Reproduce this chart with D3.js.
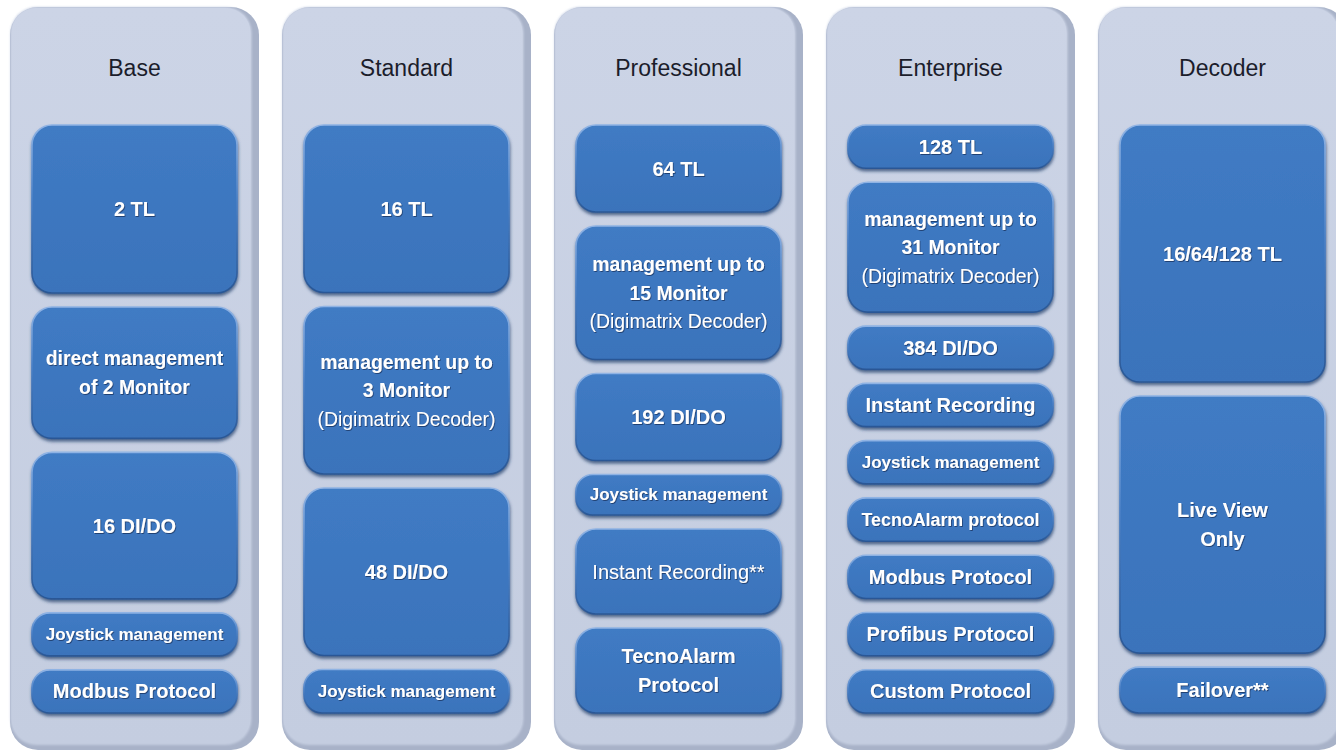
<!DOCTYPE html>
<html>
<head>
<meta charset="utf-8">
<script src="https://cdn.jsdelivr.net/npm/d3@7"></script>
<style>
  html, body { margin: 0; padding: 0; background: #ffffff; }
  svg { display: block; }
</style>
</head>
<body>
<svg id="chart" width="1336" height="752"></svg>
<script>
// ---------------- DATA ----------------
const tiers = ["Base", "Standard", "Professional", "Enterprise", "Decoder"];

const baseFeatures = [["2 TL"], ["direct management", "of 2 Monitor"], ["16 DI/DO"], ["Joystick management"], ["Modbus Protocol"]];
const baseWeights = [3.9, 3.05, 3.4, 1, 1];

const standardFeatures = [["16 TL"], ["management up to", "3 Monitor", "(Digimatrix Decoder)"], ["48 DI/DO"], ["Joystick management"]];
const standardWeights = [3.85, 3.85, 3.85, 1];

const professionalFeatures = [["64 TL"], ["management up to", "15 Monitor", "(Digimatrix Decoder)"], ["192 DI/DO"], ["Joystick management"], ["Instant Recording**"], ["TecnoAlarm", "Protocol"]];
const professionalWeights = [2.15, 3.3, 2.15, 1, 2.1, 2.1];

const enterpriseFeatures = [["128 TL"], ["management up to", "31 Monitor", "(Digimatrix Decoder)"], ["384 DI/DO"], ["Instant Recording"], ["Joystick management"], ["TecnoAlarm protocol"], ["Modbus Protocol"], ["Profibus Protocol"], ["Custom Protocol"]];
const enterpriseWeights = [1, 3, 1, 1, 1, 1, 1, 1, 1];

const decoderFeatures = [["16/64/128 TL"], ["Live View", "Only"], ["Failover**"]];
const decoderWeights = [5.6, 5.6, 1];

const regularLines = ["(Digimatrix Decoder)", "Instant Recording**"];

const columns = [
  { features: baseFeatures, weights: baseWeights },
  { features: standardFeatures, weights: standardWeights },
  { features: professionalFeatures, weights: professionalWeights },
  { features: enterpriseFeatures, weights: enterpriseWeights },
  { features: decoderFeatures, weights: decoderWeights }
];

// ---------------- LAYOUT ----------------
const W = 1336, H = 752;
const FONT = "'Liberation Sans', Arial, Helvetica, sans-serif";
const svg = d3.select("#chart");
const defs = svg.append("defs");

const x = d3.scaleBand().domain(tiers).range([10, 1347]).paddingInner(23 / 272).paddingOuter(0);
const panelTop = 7, panelBottom = 750;
const contentTop = 125, contentBottom = 713, gap = 14;
const boxInset = 22, boxWidth = 205;

// gradients & filters
const faceGrad = defs.append("linearGradient").attr("id", "panelFace").attr("x1", 0).attr("y1", 0).attr("x2", 0).attr("y2", 1);
faceGrad.append("stop").attr("offset", "0%").attr("stop-color", "#ccd4e6");
faceGrad.append("stop").attr("offset", "100%").attr("stop-color", "#c4cde0");

const edgeGrad = defs.append("linearGradient").attr("id", "boxEdge").attr("x1", 0).attr("y1", 0).attr("x2", 0).attr("y2", 1);
edgeGrad.append("stop").attr("offset", "0%").attr("stop-color", "#8fb3e4");
edgeGrad.append("stop").attr("offset", "45%").attr("stop-color", "#4a80c6");
edgeGrad.append("stop").attr("offset", "100%").attr("stop-color", "#2a5795");

const boxGrad = defs.append("linearGradient").attr("id", "boxFill").attr("x1", 0).attr("y1", 0).attr("x2", 0).attr("y2", 1);
boxGrad.append("stop").attr("offset", "0%").attr("stop-color", "#407bc4");
boxGrad.append("stop").attr("offset", "100%").attr("stop-color", "#3a73bb");

const boxShadow = defs.append("filter").attr("id", "boxShadow").attr("x", "-10%").attr("y", "-10%").attr("width", "120%").attr("height", "130%");
boxShadow.append("feDropShadow").attr("dx", 0.5).attr("dy", 2.5).attr("stdDeviation", 1.6)
  .attr("flood-color", "#29456e").attr("flood-opacity", 0.75);

const textShadow = defs.append("filter").attr("id", "textShadow").attr("x", "-5%").attr("y", "-20%").attr("width", "110%").attr("height", "150%");
textShadow.append("feDropShadow").attr("dx", 0.8).attr("dy", 1).attr("stdDeviation", 0.6)
  .attr("flood-color", "#1c3560").attr("flood-opacity", 0.8);

const panelBlur = defs.append("filter").attr("id", "panelBlur");
panelBlur.append("feGaussianBlur").attr("stdDeviation", 1.2);

// ---------------- DRAW ----------------
tiers.forEach((tier, ci) => {
  const x0 = x(tier), bw = x.bandwidth();
  const g = svg.append("g").attr("class", "tier");

  // panel: extruded edge + face
  g.append("rect").attr("x", x0).attr("y", panelTop).attr("width", bw).attr("height", panelBottom - panelTop)
    .attr("rx", 28).attr("fill", "#a8b2c8");
  g.append("rect").attr("x", x0 + 0.5).attr("y", panelTop).attr("width", bw - 8).attr("height", panelBottom - panelTop - 5)
    .attr("rx", 26).attr("fill", "url(#panelFace)").attr("filter", "url(#panelBlur)");
  g.append("rect").attr("x", x0 + 1.5).attr("y", panelTop + 1).attr("width", bw - 10).attr("height", panelBottom - panelTop - 8)
    .attr("rx", 25).attr("fill", "url(#panelFace)");

  // title
  g.append("text").attr("x", x0 + boxInset + boxWidth / 2).attr("y", 68)
    .attr("text-anchor", "middle").attr("dominant-baseline", "central")
    .attr("font-family", FONT).attr("font-size", 23).attr("fill", "#1b1d2b")
    .text(tier);

  // boxes
  const col = columns[ci];
  const n = col.weights.length;
  const total = d3.sum(col.weights);
  const y = d3.scaleLinear().domain([0, total]).range([contentTop, contentBottom - gap * (n - 1)]);
  const cum = d3.cumsum([0].concat(col.weights));

  col.features.forEach((lines, i) => {
    const by = y(cum[i]) + gap * i;
    const bh = y(cum[i + 1]) - y(cum[i]);
    const bx = x0 + boxInset;
    const rx = Math.min(20, bh / 2.4);

    g.append("rect").attr("x", bx).attr("y", by).attr("width", boxWidth).attr("height", bh)
      .attr("rx", rx).attr("fill", "url(#boxFill)").attr("stroke", "url(#boxEdge)").attr("stroke-width", 1.6)
      .attr("filter", "url(#boxShadow)");

    const cx = bx + boxWidth / 2, cy = by + bh / 2;
    const lh = 28.5;
    const t = g.append("text").attr("text-anchor", "middle")
      .attr("font-family", FONT).attr("fill", "#ffffff").attr("filter", "url(#textShadow)");
    lines.forEach((ln, li) => {
      t.append("tspan").attr("x", cx)
        .attr("y", cy + (li - (lines.length - 1) / 2) * lh)
        .attr("dominant-baseline", "central")
        .attr("font-weight", regularLines.includes(ln) ? "normal" : "bold")
        .attr("font-size", 20)
        .text(ln);
    });
    // shrink to fit
    const tw = t.node().getBBox().width;
    const maxW = 178;
    if (tw > maxW) {
      t.selectAll("tspan").attr("font-size", 20 * maxW / tw);
    }
  });
});
</script>
</body>
</html>
